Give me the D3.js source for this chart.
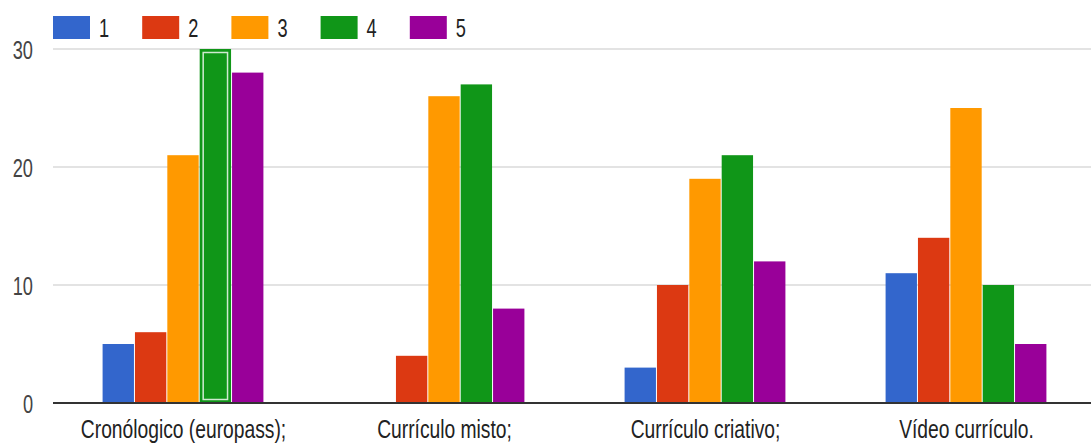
<!DOCTYPE html>
<html>
<head>
<meta charset="utf-8">
<script src="https://cdn.jsdelivr.net/npm/d3@7"></script>
<style>
  body { margin: 0; background: #fff; }
  text { font-family: "Liberation Sans", Arial, sans-serif; }
</style>
</head>
<body>
<svg id="chart" width="1091" height="444"></svg>
<script>
// data
const categories = ["Cronólogico (europass);", "Currículo misto;", "Currículo criativo;", "Vídeo currículo."];
const seriesNames = ["1", "2", "3", "4", "5"];
const series1 = [5, 0, 3, 11];
const series2 = [6, 4, 10, 14];
const series3 = [21, 26, 19, 25];
const series4 = [30, 27, 21, 10];
const series5 = [28, 8, 12, 5];
const yTicks = [0, 10, 20, 30];
const colors = ["#3366cc", "#dc3912", "#ff9900", "#109618", "#990099"];

const allSeries = [series1, series2, series3, series4, series5];

const svg = d3.select("#chart");
const w = 1091, h = 444;
const plotLeft = 53, plotBottom = 403, plotTop = 49;

// scales
const x0 = d3.scaleBand()
    .domain(categories)
    .range([plotLeft, plotLeft + 4 * 261])
    .paddingInner(0.38)
    .paddingOuter(0.19);

const x1 = d3.scaleBand()
    .domain(seriesNames)
    .range([0, x0.bandwidth()]);

const y = d3.scaleLinear()
    .domain([0, 30])
    .range([plotBottom, plotTop]);

// the original image is stretched vertically, so text is tall and narrow
const sxTick = 0.7;
const sxLabel = 0.77;

// gridlines
svg.append("g")
    .selectAll("line")
    .data(yTicks.filter(t => t > 0))
    .join("line")
    .attr("x1", plotLeft).attr("x2", w)
    .attr("y1", d => y(d)).attr("y2", d => y(d))
    .attr("stroke", "#e3e3e3")
    .attr("stroke-width", 2);

// y tick labels
svg.append("g")
    .selectAll("text")
    .data(yTicks)
    .join("text")
    .attr("transform", d => `translate(33, ${y(d) + 9.5}) scale(${sxTick},1)`)
    .attr("text-anchor", "end")
    .attr("font-size", 26)
    .attr("fill", "#444")
    .text(d => d);

// bars
const rows = categories.map((c, i) => ({ cat: c, vals: allSeries.map(s => s[i]) }));

const groups = svg.append("g")
    .selectAll("g")
    .data(rows)
    .join("g")
    .attr("transform", d => `translate(${x0(d.cat)},0)`);

groups.selectAll("rect")
    .data(d => d.vals.map((v, j) => ({ key: seriesNames[j], v, j })))
    .join("rect")
    .attr("x", d => x1(d.key))
    .attr("y", d => y(d.v))
    .attr("width", x1.bandwidth() - 1)
    .attr("height", d => plotBottom - y(d.v))
    .attr("fill", d => colors[d.j]);

// highlighted bar (series 4 of first category)
const hx = x0(categories[0]) + x1("4");
svg.append("rect")
    .attr("x", hx + 3.5)
    .attr("y", y(series4[0]) + 3.5)
    .attr("width", x1.bandwidth() - 8)
    .attr("height", plotBottom - y(series4[0]) - 7)
    .attr("fill", "none")
    .attr("stroke", "#fff")
    .attr("stroke-opacity", 0.8)
    .attr("stroke-width", 1.5);

// baseline
svg.append("line")
    .attr("x1", plotLeft).attr("x2", w)
    .attr("y1", plotBottom).attr("y2", plotBottom)
    .attr("stroke", "#333")
    .attr("stroke-width", 2);

// category labels
svg.append("g")
    .selectAll("text")
    .data(categories)
    .join("text")
    .attr("transform", d => `translate(${x0(d) + x0.bandwidth() / 2}, 438) scale(${sxLabel},1)`)
    .attr("text-anchor", "middle")
    .attr("font-size", 25)
    .attr("fill", "#222")
    .text(d => d);

// legend
const legend = svg.append("g")
    .selectAll("g")
    .data(seriesNames)
    .join("g")
    .attr("transform", (d, i) => `translate(${53 + i * 89.2}, 16)`);

legend.append("rect")
    .attr("width", 37).attr("height", 23)
    .attr("fill", (d, i) => colors[i]);

legend.append("text")
    .attr("transform", `translate(46, 21) scale(${sxTick},1)`)
    .attr("font-size", 26)
    .attr("fill", "#222")
    .text(d => d);
</script>
</body>
</html>
